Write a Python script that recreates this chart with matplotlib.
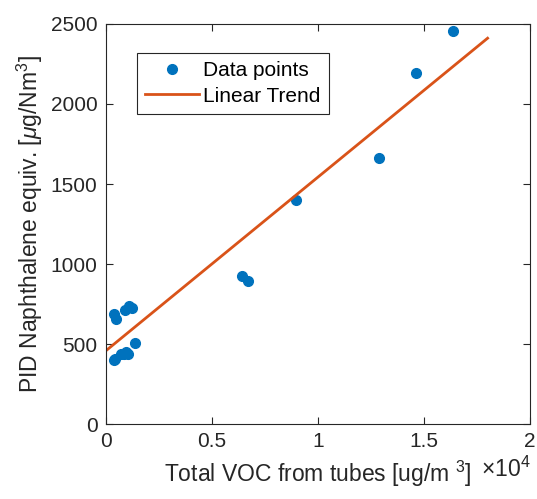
import numpy as np
import matplotlib
matplotlib.use("Agg")
import matplotlib.pyplot as plt

plt.rcParams['font.family'] = ['Liberation Sans', 'DejaVu Sans']
plt.rcParams['mathtext.fontset'] = 'custom'
plt.rcParams['mathtext.rm'] = 'Liberation Sans'
plt.rcParams['mathtext.it'] = 'Liberation Sans:italic'

# data (x in units of 1e4 ug/m3)
voc = [0.037, 0.045, 0.07, 0.085, 0.097, 0.105, 0.136,
       0.039, 0.047, 0.089, 0.109, 0.123,
       0.643, 0.670, 0.895, 1.288, 1.463, 1.639]
pid = [400, 410, 437, 440, 452, 440, 510,
       686, 654, 712, 739, 723,
       925, 894, 1400, 1660, 2196, 2458]

trend_x = [0.0, 1.8]
trend_y = [458, 2411]

xticks = [0, 0.5, 1, 1.5, 2]
xtick_labels = ['0', '0.5', '1', '1.5', '2']
yticks = [0, 500, 1000, 1500, 2000, 2500]

fig = plt.figure(figsize=(5.37, 4.99), dpi=100)
ax = fig.add_axes([0.197, 0.150, 0.790, 0.802])

ax.plot(voc, pid, 'o', color='#0072BD', markersize=7, label='Data points')
ax.plot(trend_x, trend_y, '-', color='#D95319', linewidth=2, label='Linear Trend')

ax.set_xlim(0, 2)
ax.set_ylim(0, 2500)
ax.set_xticks(xticks)
ax.set_xticklabels(xtick_labels)
ax.set_yticks(yticks)
ax.tick_params(direction='in', top=True, right=True, length=5, width=0.8,
               labelsize=15, pad=6, colors='#262626')
for s in ax.spines.values():
    s.set_linewidth(0.8)
    s.set_color('#262626')

ax.set_ylabel(r'PID Naphthalene equiv. [$\mu$g/Nm$^3$]', fontsize=16.5, color='#262626', labelpad=4)
ax.set_xlabel(r'Total VOC from tubes [ug/m $^3$]', fontsize=16.5, color='#262626', labelpad=5)
ax.text(0.988, 1 - 469 / 499, r'$\times 10^4$', transform=fig.transFigure,
        ha='right', va='center', fontsize=16.5, color='#262626')

leg = ax.legend(loc='upper left', bbox_to_anchor=(0.073, 0.927), borderaxespad=0,
                fontsize=15, fancybox=False, edgecolor='#262626', framealpha=1,
                handlelength=2.6, borderpad=0.4, labelspacing=0.3,
                handletextpad=0.2)
leg.get_frame().set_linewidth(0.8)

fig.savefig('out.png', dpi=100)
